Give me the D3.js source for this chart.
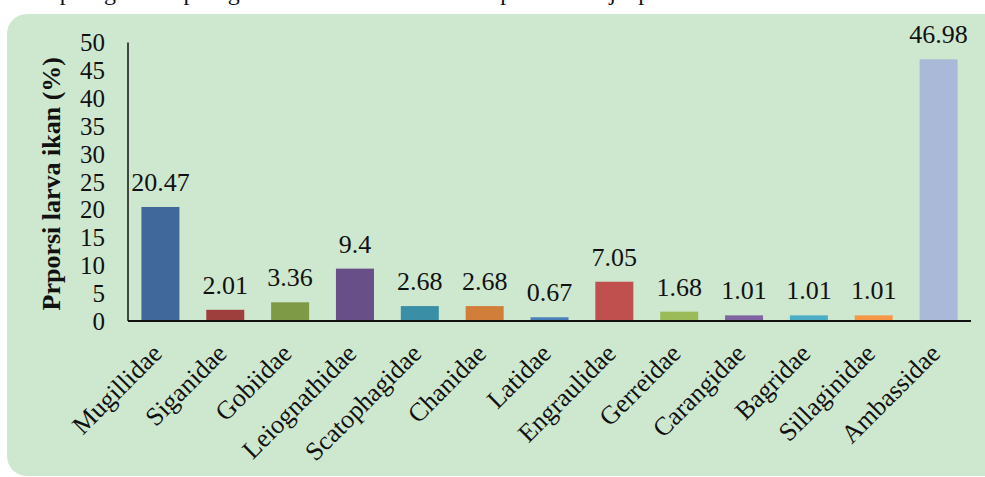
<!DOCTYPE html>
<html>
<head>
<meta charset="utf-8">
<script src="https://cdn.jsdelivr.net/npm/d3@7"></script>
<style>
  body { margin: 0; background: #fff; }
  svg text { font-family: 'Liberation Serif', 'Times New Roman', Tinos, Times, serif; }
</style>
</head>
<body>
<div id="viz"></div>
<script>
// data
const families = ['Mugillidae', 'Siganidae', 'Gobiidae', 'Leiognathidae', 'Scatophagidae', 'Chanidae',
  'Latidae', 'Engraulidae', 'Gerreidae', 'Carangidae', 'Bagridae', 'Sillaginidae', 'Ambassidae'];
const proportions = [20.47, 2.01, 3.36, 9.4, 2.68, 2.68, 0.67, 7.05, 1.68, 1.01, 1.01, 1.01, 46.98];
const valueLabels = ['20.47', '2.01', '3.36', '9.4', '2.68', '2.68', '0.67', '7.05', '1.68', '1.01', '1.01', '1.01', '46.98'];
const barColors = ['#41689a', '#9e3f3d', '#7e9a47', '#684f87', '#3a8fa6', '#d07e3a',
  '#4a7ebb', '#c0504d', '#9bbb59', '#8064a2', '#4bacc6', '#f79646', '#a9b9d7'];
const yTicks = [0, 5, 10, 15, 20, 25, 30, 35, 40, 45, 50];

const width = 985, height = 477;
const plot = { left: 128, right: 971, top: 42.5, bottom: 321 }; //presets

const svg = d3.select('#viz').append('svg')
  .attr('width', width)
  .attr('height', height);

// cut-off line of body text above the chart
svg.append('text')
  .attr('x', 2).attr('y', 0)
  .attr('font-size', 24).attr('fill', '#111')
  .attr('textLength', 830)
  .text('rata pengaruh pengaruh dari lokasi sampel tersaji pada Gambar 3.');

// green panel
svg.append('rect')
  .attr('x', 7).attr('y', 14)
  .attr('width', 1010).attr('height', 462)
  .attr('rx', 20)
  .attr('fill', '#cde8cf');

// scales
const x = d3.scaleBand()
  .domain(families)
  .range([plot.left, plot.right])
  .paddingInner(0.414)
  .paddingOuter(0.207);
const y = d3.scaleLinear()
  .domain([0, 50])
  .range([plot.bottom, plot.top]);

// y axis
const yAxis = svg.append('g')
  .attr('transform', `translate(${plot.left},0)`)
  .call(d3.axisLeft(y).tickValues(yTicks).tickSize(0).tickPadding(23));
yAxis.attr('font-family', null);
yAxis.select('.domain').attr('stroke', '#111').attr('stroke-width', 1.5).attr('d', `M0,${plot.top}V${plot.bottom}`);
yAxis.selectAll('text')
  .attr('font-size', 25).attr('fill', '#111')
  .attr('dy', '0.33em');

// y title
svg.append('text')
  .attr('transform', `translate(60,${(plot.top + plot.bottom) / 2 + 2})rotate(-90)`)
  .attr('text-anchor', 'middle')
  .attr('font-size', 26).attr('font-weight', 'bold').attr('fill', '#111')
  .text('Prporsi larva ikan (%)');

// bars
svg.selectAll('rect.bar')
  .data(families)
  .enter().append('rect')
    .attr('class', 'bar')
    .attr('x', d => x(d))
    .attr('width', x.bandwidth())
    .attr('y', (d, i) => y(proportions[i]))
    .attr('height', (d, i) => y(0) - y(proportions[i]))
    .attr('fill', (d, i) => barColors[i]);

// x axis line
svg.append('line')
  .attr('x1', plot.left).attr('x2', plot.right)
  .attr('y1', plot.bottom).attr('y2', plot.bottom)
  .attr('stroke', '#111').attr('stroke-width', 2);

// value labels
svg.selectAll('text.val')
  .data(families)
  .enter().append('text')
    .attr('class', 'val')
    .attr('x', d => x(d) + x.bandwidth() / 2)
    .attr('y', (d, i) => y(proportions[i]) - 16)
    .attr('text-anchor', 'middle')
    .attr('font-size', 26).attr('fill', '#111')
    .text((d, i) => valueLabels[i]);

// category labels
svg.selectAll('text.cat')
  .data(families)
  .enter().append('text')
    .attr('class', 'cat')
    .attr('transform', d => `translate(${x(d) + x.bandwidth() / 2 + 3},${plot.bottom + 34})rotate(-45)`)
    .attr('text-anchor', 'end')
    .attr('font-size', 26).attr('fill', '#111')
    .text(d => d);
</script>
</body>
</html>
